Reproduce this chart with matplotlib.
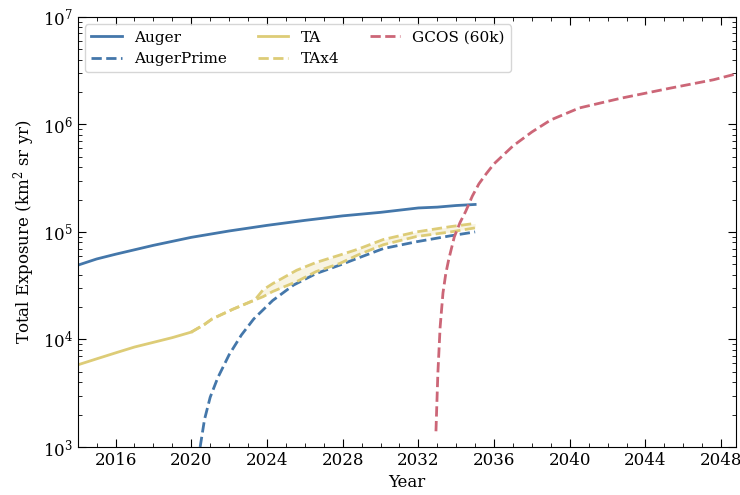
import numpy as np
import matplotlib
matplotlib.use("Agg")
import matplotlib.pyplot as plt

plt.rcParams['font.family'] = 'DejaVu Serif'
plt.rcParams['mathtext.fontset'] = 'dejavuserif'

blue = "#4477AA"
yellow = "#DDCC77"
red = "#CC6677"

# Auger (measured + continued)
auger_years = [2014, 2015, 2016, 2018, 2020, 2022, 2024, 2026, 2028, 2030, 2032, 2033, 2034, 2035]
auger_exp = [4.9e4, 5.6e4, 6.2e4, 7.5e4, 8.9e4, 1.02e5, 1.15e5, 1.28e5, 1.41e5, 1.52e5, 1.67e5, 1.70e5, 1.76e5, 1.80e5]

# AugerPrime
ap_years = [2020.47, 2020.7, 2021.0, 2021.4, 2022.0, 2022.65, 2023.3, 2024.3, 2025.4, 2026.6,
            2027.9, 2028.8, 2030.15, 2031.9, 2033.7, 2035.0]
ap_exp = [1.0e3, 1.8e3, 2.9e3, 4.4e3, 7.2e3, 1.1e4, 1.55e4, 2.3e4, 3.2e4, 4.1e4,
          4.95e4, 5.7e4, 7.0e4, 8.1e4, 9.2e4, 1.0e5]

# TA measured
ta_years = [2014, 2015, 2016, 2017, 2018, 2019, 2020]
ta_exp = [5.8e3, 6.6e3, 7.5e3, 8.5e3, 9.4e3, 1.04e4, 1.17e4]

# TA projection and TAx4 projection on a common grid
proj_years = [2020, 2020.7, 2021.1, 2022.2, 2023.36, 2023.8, 2024.3, 2025.57, 2026.6,
              2027.86, 2028.8, 2030.15, 2031.9, 2033.7, 2035]
ta_proj = [1.17e4, 1.38e4, 1.55e4, 1.91e4, 2.33e4, 2.5e4, 2.79e4, 3.45e4, 4.28e4,
           5.1e4, 6.1e4, 7.6e4, 9.06e4, 1.0e5, 1.09e5]
tax4_proj = [1.17e4, 1.38e4, 1.55e4, 1.91e4, 2.33e4, 2.9e4, 3.3e4, 4.4e4, 5.2e4,
             6.1e4, 6.9e4, 8.5e4, 1.0e5, 1.12e5, 1.2e5]

# GCOS (60k)
gcos_years = [2032.93, 2033.03, 2033.15, 2033.3, 2033.45, 2033.6, 2033.9, 2034.2, 2034.5,
              2034.85, 2035.2, 2035.6, 2036.0, 2037.0, 2038.0, 2039.0, 2040.5, 2042.7,
              2045.3, 2047.6, 2048.8]
gcos_exp = [1.4e3, 4.8e3, 1.3e4, 2.7e4, 4.1e4, 5.5e4, 9.0e4, 1.22e5, 1.55e5,
            2.15e5, 2.8e5, 3.5e5, 4.3e5, 6.3e5, 8.5e5, 1.1e6, 1.42e6, 1.75e6,
            2.17e6, 2.6e6, 2.95e6]

fig, ax = plt.subplots(figsize=(7.4, 4.95), dpi=100)
fig.subplots_adjust(left=0.105, right=0.995, top=0.966, bottom=0.097)

lw = 2.0
ax.plot(auger_years, auger_exp, color=blue, lw=lw, label="Auger")
ax.plot(ap_years, ap_exp, color=blue, lw=lw, ls="--", label="AugerPrime")
ax.plot(ta_years, ta_exp, color=yellow, lw=lw, label="TA")
ax.plot(proj_years, tax4_proj, color=yellow, lw=lw, ls="--", label="TAx4")
ax.plot(proj_years, ta_proj, color=yellow, lw=lw, ls="--")
ax.fill_between(proj_years, ta_proj, tax4_proj, color=yellow, alpha=0.2, lw=0)
ax.plot(gcos_years, gcos_exp, color=red, lw=lw, ls="--", label="GCOS (60k)")

ax.set_yscale("log")
ax.set_ylim(1e3, 1e7)
ax.set_xlim(2014, 2048.8)
ax.set_xticks(np.arange(2016, 2049, 4))
ax.set_xticks(np.arange(2014, 2049, 1), minor=True)
ax.tick_params(which="both", direction="in", top=True, right=True, labelsize=12)
ax.tick_params(which="major", length=6)
ax.tick_params(which="minor", length=3)

ax.set_xlabel("Year", fontsize=12)
ax.set_ylabel("Total Exposure (km$^2$ sr yr)", fontsize=12)
ax.legend(loc="upper left", ncol=3, fontsize=11)

fig.savefig("out.png")
